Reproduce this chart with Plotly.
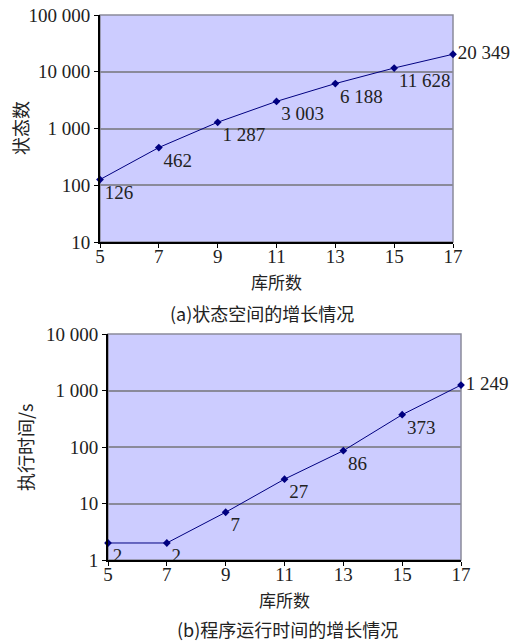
import plotly.graph_objects as go

places = [5, 7, 9, 11, 13, 15, 17]
states = [126, 462, 1287, 3003, 6188, 11628, 20349]
state_labels = ["126", "462", "1 287", "3 003", "6 188", "11 628", "20 349"]
times = [2, 2, 7, 27, 86, 373, 1249]
time_labels = ["2", "2", "7", "27", "86", "373", "1 249"]

ytick_vals_a = [10, 100, 1000, 10000, 100000]
ytick_text_a = ["10", "100", "1 000", "10 000", "100 000"]
ytick_vals_b = [1, 10, 100, 1000, 10000]
ytick_text_b = ["1", "10", "100", "1 000", "10 000"]

xtitle = "库所数"
ytitle_a = "状态数"
ytitle_b = "执行时间/s"
caption_a = "(a)状态空间的增长情况"
caption_b = "(b)程序运行时间的增长情况"

FONT = "Liberation Serif"
CJK = "Noto Sans CJK SC"
NAVY = "#000080"
W, H = 528, 642

def px_x(p):
    return p / W

def px_y(p):
    return 1 - p / H

fig = go.Figure()

pos = ["bottom right"] * 6 + ["middle right"]

fig.add_trace(go.Scatter(
    x=places, y=states, text=state_labels,
    mode="lines+markers+text", textposition=pos,
    line=dict(color=NAVY, width=1), marker=dict(color=NAVY, size=6, symbol="diamond"),
    textfont=dict(family=FONT, size=19, color="#222"),
    xaxis="x", yaxis="y", cliponaxis=False, showlegend=False))

fig.add_trace(go.Scatter(
    x=places, y=times, text=time_labels,
    mode="lines+markers+text", textposition=pos,
    line=dict(color=NAVY, width=1), marker=dict(color=NAVY, size=6, symbol="diamond"),
    textfont=dict(family=FONT, size=19, color="#222"),
    xaxis="x2", yaxis="y2", cliponaxis=False, showlegend=False))

xdom_a = [px_x(100), px_x(453)]
ydom_a = [px_y(242), px_y(15)]
xdom_b = [px_x(108), px_x(461)]
ydom_b = [px_y(560), px_y(334)]

common_x = dict(range=[5, 17], tickvals=places, ticks="outside", ticklen=4, tickcolor="black",
                showline=True, linecolor="black", linewidth=2, showgrid=False, zeroline=False,
                ticklabelstandoff=-8,
                tickfont=dict(family=FONT, size=19, color="#222"))
common_y = dict(type="log", ticks="outside", ticklen=4, tickcolor="black",
                showline=True, linecolor="black", linewidth=2, showgrid=True,
                gridcolor="#8a8a9a", gridwidth=1.5, zeroline=False,
                tickfont=dict(family=FONT, size=19, color="#222"))

fig.update_layout(
    width=W, height=H, margin=dict(l=0, r=0, t=0, b=0, pad=0, autoexpand=False),
    paper_bgcolor="white", plot_bgcolor="#CCCCFF",
    xaxis=dict(domain=xdom_a, anchor="y", **common_x),
    yaxis=dict(domain=ydom_a, anchor="x", range=[1, 5], tickvals=ytick_vals_a,
               ticktext=ytick_text_a, **common_y),
    xaxis2=dict(domain=xdom_b, anchor="y2", **common_x),
    yaxis2=dict(domain=ydom_b, anchor="x2", range=[0, 4], tickvals=ytick_vals_b,
                ticktext=ytick_text_b, **common_y),
)

for xr, yr in [("x domain", "y domain"), ("x2 domain", "y2 domain")]:
    fig.add_shape(type="rect", xref=xr, yref=yr, x0=0, x1=1, y0=0, y1=1,
                  line=dict(color="#8a8a9a", width=1.5), layer="below")

ann = [
    (xtitle, (xdom_a[0] + xdom_a[1]) / 2, px_y(282), 0, CJK, 17),
    (caption_a, px_x(262), px_y(313), 0, CJK, 18),
    (ytitle_a, px_x(20), px_y(128), -90, CJK, 18),
    (xtitle, (xdom_b[0] + xdom_b[1]) / 2, px_y(599), 0, CJK, 17),
    (caption_b, px_x(287), px_y(629), 0, CJK, 18),
    (ytitle_b, px_x(25), px_y(448), -90, CJK, 18),
]
for text, x, y, ang, fam, sz in ann:
    fig.add_annotation(text=text, x=x, y=y, xref="paper", yref="paper",
                       showarrow=False, textangle=ang, xanchor="center", yanchor="middle",
                       font=dict(family=fam, size=sz, color="#222"))

fig.write_html("out.html", config={"displayModeBar": False},
               post_script="document.body.style.margin='0px';")
